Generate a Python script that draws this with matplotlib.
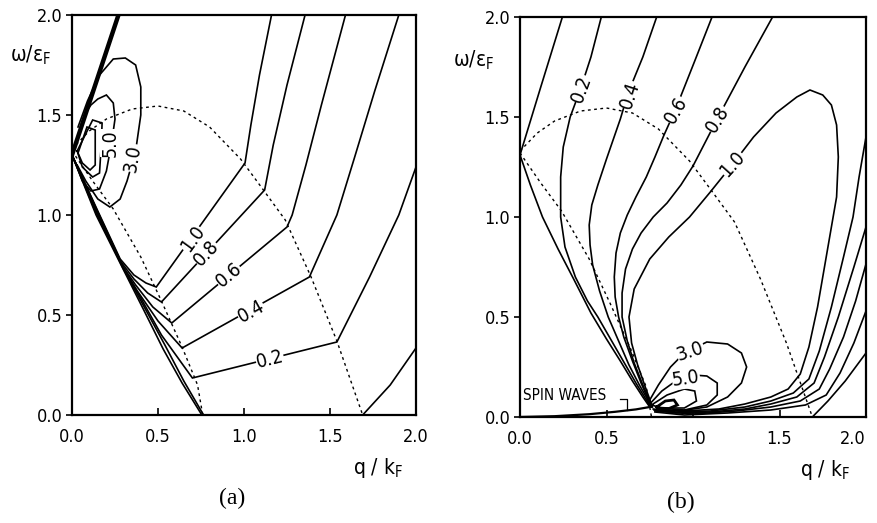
import matplotlib
matplotlib.use("Agg")
import matplotlib.pyplot as plt

plt.rcParams['font.family'] = ['DejaVu Sans']
plt.rcParams['font.stretch'] = 'condensed'

# ---------------- dashed continuum boundaries (shared by both panels) ----------------
dash_up_q = [0.0, 0.1, 0.2, 0.35, 0.5, 0.65, 0.8, 0.98, 1.1, 1.24, 1.39, 1.54, 1.69]
dash_up_w = [1.33, 1.42, 1.48, 1.53, 1.545, 1.52, 1.44, 1.28, 1.14, 0.975, 0.69, 0.37, 0.0]
dash_lo_q = [0.0, 0.12, 0.24, 0.40, 0.52, 0.64, 0.73, 0.76]
dash_lo_w = [1.32, 1.17, 1.03, 0.79, 0.57, 0.34, 0.15, 0.0]

# ---------------- panel (a) contours ----------------
a_thick_q = [0.0, 0.27]
a_thick_w = [1.30, 2.0]
a10_q = [0.0, 0.15, 0.28, 0.36, 0.43, 0.49, 1.006, 1.04, 1.09, 1.16]
a10_w = [1.30, 1.02, 0.78, 0.70, 0.66, 0.64, 1.26, 1.45, 1.70, 2.0]
a08_q = [0.0, 0.15, 0.285, 0.36, 0.44, 0.52, 1.12, 1.17, 1.25, 1.355]
a08_w = [1.30, 1.015, 0.765, 0.68, 0.61, 0.565, 1.125, 1.35, 1.65, 2.0]
a06_q = [0.0, 0.15, 0.29, 0.37, 0.47, 0.58, 1.25, 1.28, 1.36, 1.45, 1.59]
a06_w = [1.30, 1.01, 0.75, 0.65, 0.54, 0.46, 0.94, 1.0, 1.25, 1.55, 2.0]
a04_q = [0.0, 0.15, 0.295, 0.38, 0.50, 0.64, 1.38, 1.54, 1.64, 1.76, 1.90]
a04_w = [1.30, 1.005, 0.74, 0.62, 0.47, 0.335, 0.69, 1.0, 1.28, 1.62, 2.0]
a02_q = [0.0, 0.15, 0.30, 0.39, 0.52, 0.70, 1.54, 1.73, 1.90, 2.0]
a02_w = [1.30, 1.0, 0.73, 0.60, 0.40, 0.185, 0.365, 0.69, 1.0, 1.24]
a00_q = [0.0, 0.14, 0.30, 0.42, 0.53, 0.64, 0.755]
a00_w = [1.30, 1.0, 0.725, 0.52, 0.33, 0.16, 0.0]
a01_q = [0.0, 0.145, 0.30, 0.42, 0.54, 0.65, 0.765]
a01_w = [1.30, 1.0, 0.73, 0.54, 0.35, 0.17, 0.0]
a0x_q = [1.69, 1.85, 2.0]
a0x_w = [0.0, 0.15, 0.335]
a30_q = [0.035, 0.09, 0.16, 0.24, 0.31, 0.37, 0.40, 0.40, 0.37, 0.32, 0.28, 0.22, 0.15, 0.08, 0.03]
a30_w = [1.44, 1.57, 1.70, 1.78, 1.785, 1.75, 1.64, 1.50, 1.32, 1.17, 1.08, 1.04, 1.08, 1.17, 1.25]
a50_q = [0.08, 0.11, 0.15, 0.20, 0.24, 0.25, 0.23, 0.20, 0.16, 0.11, 0.06, 0.03]
a50_w = [1.51, 1.55, 1.58, 1.60, 1.56, 1.48, 1.36, 1.22, 1.13, 1.12, 1.17, 1.24]
a_in1_q = [0.03, 0.12, 0.175, 0.17, 0.16, 0.12, 0.06, 0.03]
a_in1_w = [1.32, 1.475, 1.46, 1.35, 1.21, 1.19, 1.24, 1.32]
a_in2_q = [0.035, 0.087, 0.135, 0.135, 0.105, 0.06, 0.035]
a_in2_w = [1.31, 1.44, 1.425, 1.25, 1.225, 1.26, 1.31]

a_labels = ["1.0", "0.8", "0.6", "0.4", "0.2", "3.0", "5.0"]
a_label_q = [0.70, 0.78, 0.91, 1.04, 1.15, 0.355, 0.22]
a_label_w = [0.88, 0.81, 0.70, 0.52, 0.28, 1.285, 1.36]
a_label_rot = [54, 47, 40, 29, 14, 80, 90]

# ---------------- panel (b) contours ----------------
b00_q = [0.245, 0.12, 0.0, 0.06, 0.13, 0.22, 0.31, 0.41, 0.50, 0.58, 0.65, 0.71, 0.75]
b00_w = [2.0, 1.65, 1.31, 1.16, 1.0, 0.84, 0.69, 0.52, 0.39, 0.28, 0.18, 0.10, 0.05]
b02_q = [0.47, 0.41, 0.35, 0.29, 0.25, 0.235, 0.235, 0.26, 0.32, 0.39, 0.45, 0.53, 0.61, 0.67, 0.72, 0.755]
b02_w = [2.0, 1.8, 1.64, 1.5, 1.35, 1.2, 1.0, 0.85, 0.70, 0.58, 0.50, 0.38, 0.26, 0.17, 0.10, 0.05]
b04_q = [0.79, 0.71, 0.625, 0.58, 0.50, 0.45, 0.415, 0.40, 0.405, 0.42, 0.46, 0.51, 0.57, 0.63, 0.69, 0.73, 0.757]
b04_w = [2.0, 1.8, 1.62, 1.49, 1.29, 1.16, 1.06, 0.96, 0.86, 0.76, 0.63, 0.50, 0.38, 0.26, 0.16, 0.10, 0.05]
b06_q = [1.11, 1.01, 0.90, 0.83, 0.78, 0.73, 0.67, 0.62, 0.58, 0.555, 0.545, 0.55, 0.57, 0.60, 0.65, 0.70, 0.735, 0.76]
b06_w = [2.0, 1.78, 1.54, 1.405, 1.30, 1.20, 1.10, 1.01, 0.92, 0.82, 0.70, 0.60, 0.50, 0.40, 0.28, 0.17, 0.10, 0.05]
b08_q = [1.46, 1.30, 1.14, 1.00, 0.93, 0.85, 0.77, 0.70, 0.65, 0.61, 0.59, 0.59, 0.62, 0.66, 0.71, 0.74, 0.762]
b08_w = [2.0, 1.75, 1.49, 1.255, 1.16, 1.07, 1.0, 0.92, 0.84, 0.74, 0.62, 0.50, 0.38, 0.27, 0.16, 0.10, 0.05]
b10_q = [0.765, 0.745, 0.72, 0.68, 0.645, 0.63, 0.66, 0.75, 0.86, 0.98, 1.10, 1.23, 1.35, 1.48, 1.60,
         1.676, 1.75, 1.80, 1.83, 1.84, 1.83, 1.81, 1.77, 1.72, 1.67, 1.62, 1.55, 1.45, 1.30, 1.15, 0.95, 0.80]
b10_w = [0.05, 0.10, 0.16, 0.26, 0.37, 0.50, 0.64, 0.79, 0.90, 1.0, 1.125, 1.265, 1.40, 1.52, 1.60,
         1.635, 1.61, 1.56, 1.46, 1.30, 1.10, 1.0, 0.80, 0.55, 0.35, 0.215, 0.14, 0.10, 0.065, 0.04, 0.03, 0.035]
br08_q = [2.0, 1.96, 1.925, 1.87, 1.80, 1.73, 1.67, 1.58, 1.45, 1.30, 1.10, 0.90, 0.77]
br08_w = [1.40, 1.2, 1.0, 0.8, 0.55, 0.33, 0.19, 0.12, 0.08, 0.05, 0.03, 0.025, 0.04]
br06_q = [2.0, 1.93, 1.84, 1.76, 1.70, 1.60, 1.45, 1.30, 1.10, 0.90, 0.775]
br06_w = [0.95, 0.75, 0.50, 0.30, 0.17, 0.10, 0.065, 0.04, 0.025, 0.02, 0.035]
br04_q = [2.0, 1.94, 1.87, 1.79, 1.73, 1.62, 1.45, 1.25, 1.0, 0.78]
br04_w = [0.765, 0.58, 0.40, 0.24, 0.14, 0.08, 0.05, 0.03, 0.015, 0.03]
br02_q = [2.0, 1.93, 1.85, 1.77, 1.65, 1.45, 1.2, 0.95, 0.78]
br02_w = [0.53, 0.37, 0.22, 0.11, 0.06, 0.035, 0.02, 0.01, 0.025]
br0x_q = [1.69, 1.78, 1.88, 2.0]
br0x_w = [0.0, 0.08, 0.18, 0.32]
b30_q = [0.74, 0.80, 0.87, 0.95, 1.08, 1.20, 1.28, 1.31, 1.28, 1.20, 1.08, 0.92, 0.79]
b30_w = [0.07, 0.16, 0.25, 0.32, 0.375, 0.365, 0.32, 0.25, 0.17, 0.10, 0.05, 0.03, 0.04]
b50_q = [0.75, 0.82, 0.90, 1.0, 1.08, 1.14, 1.14, 1.08, 0.95, 0.80]
b50_w = [0.065, 0.13, 0.18, 0.21, 0.205, 0.17, 0.11, 0.06, 0.035, 0.045]
b_in1_q = [0.76, 0.85, 0.95, 1.01, 1.02, 0.95, 0.82, 0.76]
b_in1_w = [0.06, 0.11, 0.14, 0.13, 0.08, 0.045, 0.045, 0.06]
b_in2_q = [0.79, 0.84, 0.89, 0.91, 0.86, 0.80, 0.79]
b_in2_w = [0.05, 0.08, 0.085, 0.06, 0.042, 0.045, 0.05]
spin_q = [0.0, 0.2, 0.4, 0.55, 0.67, 0.75]
spin_w = [0.0, 0.004, 0.014, 0.026, 0.038, 0.05]

b_labels = ["0.2", "0.4", "0.6", "0.8", "1.0", "3.0", "5.0"]
b_label_q = [0.355, 0.635, 0.90, 1.14, 1.23, 0.985, 0.96]
b_label_w = [1.64, 1.61, 1.535, 1.49, 1.265, 0.33, 0.19]
b_label_rot = [70, 72, 60, 58, 48, 18, 8]

ticks = [0.0, 0.5, 1.0, 1.5, 2.0]
tick_text = ["0.0", "0.5", "1.0", "1.5", "2.0"]


def setup(ax):
    ax.set_xlim(0, 2)
    ax.set_ylim(0, 2)
    ax.set_xticks(ticks)
    ax.set_yticks(ticks)
    ax.set_xticklabels(tick_text, fontsize=13)
    ax.set_yticklabels(tick_text, fontsize=13)
    ax.tick_params(axis='x', direction='in', length=5, width=1.2, pad=9)
    ax.tick_params(axis='y', direction='out', length=4, width=1.2, pad=3)
    for s in ax.spines.values():
        s.set_linewidth(1.6)


def curve(ax, q, w, lw=1.2, **kw):
    ax.plot(q, w, color='black', lw=lw, solid_joinstyle='miter', **kw)


def label(ax, txt, q, w, rot, size=14):
    ax.text(q, w, txt, rotation=rot, ha='center', va='center', fontsize=size,
            rotation_mode='anchor',
            bbox=dict(fc='white', ec='none', pad=0.2), zorder=5)


fig = plt.figure(figsize=(8.77, 5.23), dpi=100)
ax_a = fig.add_axes([72 / 877, 108 / 523, 344 / 877, 400 / 523])
ax_b = fig.add_axes([520 / 877, 106 / 523, 346 / 877, 400 / 523])

for ax in (ax_a, ax_b):
    ax.plot(dash_up_q, dash_up_w, color='black', lw=1.0, ls=(0, (2, 2.5)))
    ax.plot(dash_lo_q, dash_lo_w, color='black', lw=1.0, ls=(0, (2, 2.5)))

# panel (a)
curve(ax_a, a_thick_q, a_thick_w, lw=3.2)
for q, w in [(a10_q, a10_w), (a08_q, a08_w), (a06_q, a06_w), (a04_q, a04_w),
             (a02_q, a02_w), (a00_q, a00_w), (a01_q, a01_w), (a0x_q, a0x_w),
             (a30_q, a30_w), (a50_q, a50_w), (a_in1_q, a_in1_w), (a_in2_q, a_in2_w)]:
    curve(ax_a, q, w)
for t, q, w, r in zip(a_labels, a_label_q, a_label_w, a_label_rot):
    label(ax_a, t, q, w, r)
setup(ax_a)

# panel (b)
for q, w in [(b00_q, b00_w), (b02_q, b02_w), (b04_q, b04_w), (b06_q, b06_w),
             (b08_q, b08_w), (b10_q, b10_w), (br08_q, br08_w), (br06_q, br06_w),
             (br04_q, br04_w), (br02_q, br02_w), (br0x_q, br0x_w),
             (b30_q, b30_w), (b50_q, b50_w), (b_in1_q, b_in1_w)]:
    curve(ax_b, q, w)
curve(ax_b, b_in2_q, b_in2_w, lw=2.0)
curve(ax_b, spin_q, spin_w, lw=1.6)
for t, q, w, r in zip(b_labels, b_label_q, b_label_w, b_label_rot):
    label(ax_b, t, q, w, r)
ax_b.text(0.02, 0.11, "SPIN WAVES", fontsize=11, ha='left', va='center')
ax_b.plot([0.58, 0.62, 0.62], [0.09, 0.09, 0.035], color='black', lw=0.9)
setup(ax_b)
# keep the last tick label of (b) inside the picture
ax_b.get_xticklabels()[-1].set_horizontalalignment('right')
ax_b.get_xticklabels()[-1].set_x(2.03)

# axis titles
fig.text(10 / 877, 1 - 55 / 523, r'ω/ε$_\mathregular{F}$', fontsize=15, ha='left', va='center')
fig.text(453 / 877, 1 - 60 / 523, r'ω/ε$_\mathregular{F}$', fontsize=15, ha='left', va='center')
fig.text(378 / 877, 1 - 468 / 523, r'q / k$_\mathregular{F}$', fontsize=15, ha='center', va='center')
fig.text(825 / 877, 1 - 470 / 523, r'q / k$_\mathregular{F}$', fontsize=15, ha='center', va='center')
fig.text(232 / 877, 1 - 498 / 523, '(a)', fontsize=17, family='Liberation Serif', ha='center', va='center')
fig.text(681 / 877, 1 - 502 / 523, '(b)', fontsize=17, family='Liberation Serif', ha='center', va='center')

fig.savefig('out.png', dpi=100)
